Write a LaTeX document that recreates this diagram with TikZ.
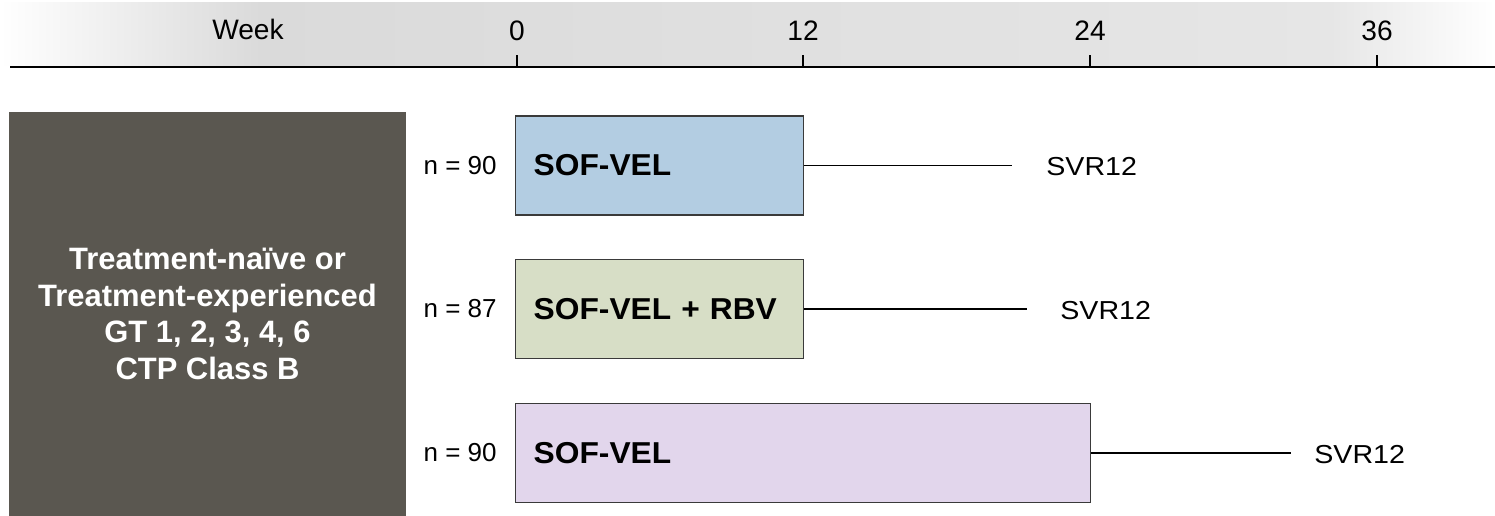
\documentclass[tikz,border=0pt]{standalone}
\usepackage{fontspec}
\setmainfont{Liberation Sans}
\newfontfamily\armfont[FakeStretch=1.05]{Liberation Sans}
\newfontfamily\popfont{Liberation Sans}
\newfontfamily\svrfont[FakeStretch=1.1]{Liberation Sans}
\newfontfamily\nfont{Liberation Sans}

\definecolor{bandA}{HTML}{DADADA}
\definecolor{bandB}{HTML}{E6E6E6}
\definecolor{popfill}{HTML}{5A5750}
\definecolor{edge}{HTML}{3A3A3A}
\definecolor{armblue}{HTML}{B3CDE2}
\definecolor{armgreen}{HTML}{D7DEC6}
\definecolor{armlilac}{HTML}{E2D6EC}

\tikzset{
  axisline/.style={line width=1.1pt, black},
  tickmark/.style={line width=1.1pt, black},
  ticklabel/.style={font=\fontsize{16}{18}\selectfont, inner sep=0pt},
  popbox/.style={fill=popfill, text=white, align=center,
    minimum width=7.94cm, minimum height=8.08cm, inner sep=0pt,
    font=\popfont\bfseries\fontsize{17.6}{20.8}\selectfont},
  arm/.style={draw=edge, line width=0.85pt, fill=#1, anchor=west,
    minimum height=1.98cm, inner xsep=0.36cm, inner ysep=0pt, align=left,
    font=\armfont\bfseries\fontsize{17.2}{19}\selectfont},
  nlabel/.style={anchor=east, inner sep=0pt, font=\nfont\fontsize{14.8}{17}\selectfont},
  svr/.style={anchor=west, inner sep=0pt, font=\svrfont\fontsize{14.8}{17}\selectfont},
  conn/.style={line width=0.8pt, black},
}

\begin{document}
\begin{tikzpicture}[x=0.02cm, y=-0.02cm]
\useasboundingbox (0,0) rectangle (1495,516);

% shaded header band
\fill[left color=white, right color=bandA] (0,3) rectangle (261,66);
\fill[left color=bandA, right color=bandB] (260,3) rectangle (1331,66);
\fill[left color=bandB, right color=white] (1330,3) rectangle (1495,66);

% time axis
\coordinate (axL) at (10,67);
\coordinate (axR) at (1495,67);
\draw[axisline] (axL) -- (axR);
\node[ticklabel] (week) at (248,29) {Week};
\foreach \xx/\lab [count=\i] in {517/0, 803/12, 1090/24, 1377/36}{
  \coordinate (tk\i) at (\xx,67);
  \draw[tickmark] (tk\i) -- ++(0,-12);
  \node[ticklabel] (tl\i) at (\xx,31) {\lab};
}

% population box
\node[popbox] (pop) at (207.5,314) {Treatment-naïve or\\Treatment-experienced\\GT 1, 2, 3, 4, 6\\CTP Class B};

% treatment arms
\node[arm=armblue,  text width=5.04cm]  (b1) at (515,165.5) {SOF-VEL};
\node[arm=armgreen, text width=5.04cm]  (b2) at (515,309)   {SOF-VEL + RBV};
\node[arm=armlilac, text width=10.78cm] (b3) at (515,453)   {SOF-VEL};

\node[nlabel] (n1) at (497,165.5) {n = 90};
\node[nlabel] (n2) at (497,309)   {n = 87};
\node[nlabel] (n3) at (497,453)   {n = 90};

% follow-up to SVR12
\coordinate (e1) at (1012,165.5);
\coordinate (e2) at (1027,309);
\coordinate (e3) at (1291,453);
\draw[conn] (b1.east) -- (e1);
\draw[conn] (b2.east) -- (e2);
\draw[conn] (b3.east) -- (e3);
\node[svr] (s1) at (1046,167) {SVR12};
\node[svr] (s2) at (1060,311) {SVR12};
\node[svr] (s3) at (1314,455) {SVR12};
\end{tikzpicture}
\end{document}
